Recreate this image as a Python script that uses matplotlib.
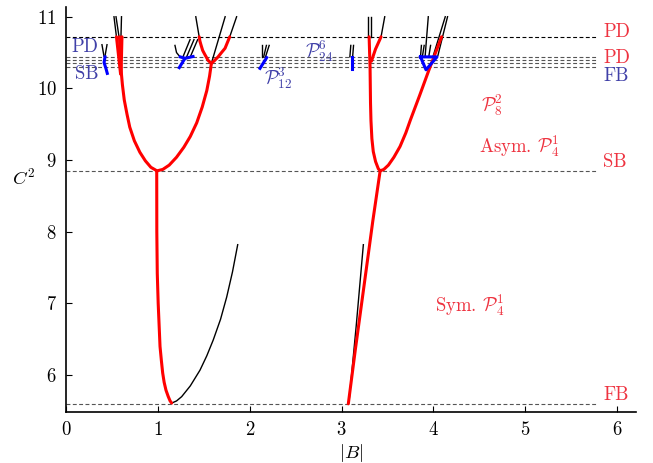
import matplotlib
matplotlib.use("Agg")
import matplotlib.pyplot as plt

plt.rcParams["font.family"] = ["cmr10", "DejaVu Serif"]
plt.rcParams["mathtext.fontset"] = "cm"
plt.rcParams["axes.formatter.use_mathtext"] = True

# Bifurcation levels (C^2)
pd_top = 10.72
cluster_levels = [10.44, 10.40, 10.35, 10.30]
sb_level = 8.85
fb_level = 5.60
level_end = 5.79

# Symmetric P_4^1 branches
sym_left_B = [0.984, 0.985, 0.99, 1.0, 1.01, 1.02, 1.035, 1.049, 1.065, 1.085, 1.11, 1.13, 1.147]
sym_left_C = [8.85, 8.0, 7.42, 7.0, 6.7, 6.40, 6.2, 6.03, 5.9, 5.79, 5.70, 5.64, 5.61]
sym_right_B = [3.073, 3.15, 3.25, 3.34, 3.42]
sym_right_C = [5.60, 6.36, 7.30, 8.15, 8.85]

# Asymmetric P_4^1 branches (left lobe)
asym_l_B = [0.578, 0.585, 0.595, 0.61, 0.63, 0.66, 0.69, 0.74, 0.80, 0.86, 0.92, 0.987,
            1.05, 1.12, 1.20, 1.28, 1.35, 1.42, 1.48, 1.53, 1.56, 1.58]
asym_l_C = [10.72, 10.45, 10.26, 10.05, 9.84, 9.64, 9.46, 9.27, 9.11, 8.99, 8.90, 8.85,
            8.87, 8.93, 9.04, 9.18, 9.33, 9.52, 9.74, 9.97, 10.17, 10.35]
# Asymmetric P_4^1 branches (right lobe)
asym_r_B = [3.30, 3.305, 3.31, 3.312, 3.315, 3.32, 3.33, 3.345, 3.37, 3.40, 3.42,
            3.46, 3.51, 3.57, 3.637, 3.70, 3.75, 3.85, 3.95, 4.09]
asym_r_C = [10.72, 10.5, 10.3, 10.1, 9.8, 9.55, 9.3, 9.12, 8.98, 8.88, 8.85,
            8.87, 8.93, 9.04, 9.19, 9.38, 9.56, 9.90, 10.25, 10.72]

# P_8^2 branches
p8_l_B = [1.447, 1.455, 1.466, 1.485, 1.51, 1.545, 1.58, 1.615, 1.653, 1.69, 1.729, 1.78]
p8_l_C = [10.72, 10.66, 10.61, 10.53, 10.47, 10.39, 10.35, 10.39, 10.44, 10.50, 10.56, 10.72]
p8_r_B = [3.325, 3.37, 3.43]
p8_r_C = [10.38, 10.55, 10.72]
wedge_B = [[0.545, 0.59], [0.605, 0.595]]
wedge_C = [[10.72, 10.20], [10.72, 10.20]]

# Unstable (black) continuations
blk_low_l_B = [1.147, 1.20, 1.256, 1.35, 1.456, 1.53, 1.60, 1.68, 1.747, 1.81, 1.867]
blk_low_l_C = [5.61, 5.64, 5.70, 5.85, 6.07, 6.27, 6.49, 6.78, 7.09, 7.44, 7.82]
blk_low_r_B = [3.08, 3.16, 3.237]
blk_low_r_C = [5.62, 6.70, 7.82]
blk_segments = [
    ([0.518, 0.545], [11.0, 10.72]),
    ([0.54, 0.573], [11.0, 10.72]),
    ([0.60, 0.594], [11.0, 10.72]),
    ([0.387, 0.409], [10.61, 10.45]),
    ([0.442, 0.42], [10.61, 10.45]),
    ([1.183, 1.20, 1.238], [10.60, 10.50, 10.44]),
    ([1.27, 1.347], [10.44, 10.68]),
    ([1.31, 1.39], [10.44, 10.68]),
    ([1.35, 1.43], [10.44, 10.68]),
    ([1.41, 1.447], [11.0, 10.72]),
    ([1.58, 1.73], [10.35, 11.0]),
    ([1.78, 1.855], [10.72, 11.0]),
    ([2.13, 2.13], [10.44, 10.60]),
    ([2.15, 2.18], [10.44, 10.60]),
    ([2.17, 2.21], [10.44, 10.60]),
    ([3.09, 3.10], [10.44, 10.60]),
    ([3.12, 3.13], [10.44, 10.60]),
    ([3.29, 3.29], [10.72, 11.0]),
    ([3.32, 3.32], [10.72, 11.0]),
    ([3.43, 3.47], [10.72, 11.0]),
    ([3.86, 3.87], [10.44, 10.60]),
    ([3.88, 3.90], [10.44, 10.60]),
    ([3.91, 3.945], [10.44, 11.0]),
    ([3.95, 3.97], [10.44, 10.60]),
    ([4.00, 4.13], [10.46, 11.0]),
    ([4.05, 4.155], [10.46, 11.0]),
]

# Higher-period branches (blue)
blue_segments = [
    ([0.42, 0.41, 0.43, 0.445], [10.44, 10.36, 10.28, 10.21]),
    ([1.23, 1.292, 1.38], [10.29, 10.42, 10.445]),
    ([1.24, 1.292], [10.44, 10.42]),
    ([2.11, 2.183], [10.28, 10.43]),
    ([3.11, 3.11], [10.27, 10.44]),
    ([3.86, 4.04, 3.92, 3.86], [10.44, 10.44, 10.26, 10.44]),
]

red = "#ff0000"
blue = "#0000ff"
lab_red = "#ee3340"
lab_blue = "#4040a8"

fig = plt.figure(figsize=(6.53, 4.63), dpi=100)
ax = fig.add_axes([0.1018, 0.1108, 0.8722, 0.8747])

dash = (0, (3.5, 2.2))
ax.hlines(pd_top, 0, level_end, colors="black", linestyles=dash, lw=0.8)
for lv in cluster_levels:
    ax.hlines(lv, 0, level_end, colors="#555555", linestyles=dash, lw=0.8)
ax.hlines(sb_level, 0, level_end, colors="#555555", linestyles=dash, lw=0.8)
ax.hlines(fb_level, 0, level_end, colors="#555555", linestyles=dash, lw=0.8)

ax.plot(blk_low_l_B, blk_low_l_C, color="black", lw=1.0)
ax.plot(blk_low_r_B, blk_low_r_C, color="black", lw=1.0)
for bx, cy in blk_segments:
    ax.plot(bx, cy, color="black", lw=1.0)

red_kw = dict(color=red, lw=2.2, solid_joinstyle="round", solid_capstyle="round")
ax.plot(sym_left_B, sym_left_C, **red_kw)
ax.plot(sym_right_B, sym_right_C, **red_kw)
ax.plot(asym_l_B, asym_l_C, **red_kw)
ax.plot(asym_r_B, asym_r_C, **red_kw)
ax.plot(p8_l_B, p8_l_C, **red_kw)
ax.plot(p8_r_B, p8_r_C, **red_kw)
for bx, cy in zip(wedge_B, wedge_C):
    ax.plot(bx, cy, **red_kw)

for bx, cy in blue_segments:
    ax.plot(bx, cy, color=blue, lw=2.2, solid_joinstyle="round")

fs = 13.5
ax.text(5.85, 10.79, "PD", color=lab_red, fontsize=fs, va="center")
ax.text(5.85, 10.43, "PD", color=lab_red, fontsize=fs, va="center")
ax.text(5.85, 10.17, "FB", color=lab_blue, fontsize=fs, va="center")
ax.text(5.85, 8.98, "SB", color=lab_red, fontsize=fs, va="center")
ax.text(5.85, 5.72, "FB", color=lab_red, fontsize=fs, va="center")
ax.text(0.057, 10.58, "PD", color=lab_blue, fontsize=fs, va="center")
ax.text(0.093, 10.20, "SB", color=lab_blue, fontsize=fs, va="center")
ax.text(4.52, 9.77, r"$\mathcal{P}_8^2$", color=lab_red, fontsize=fs, va="center")
ax.text(4.50, 9.19, r"Asym. $\mathcal{P}_4^1$", color=lab_red, fontsize=fs, va="center")
ax.text(4.02, 6.98, r"Sym. $\mathcal{P}_4^1$", color=lab_red, fontsize=fs, va="center")
ax.text(2.15, 10.14, r"$\mathcal{P}_{12}^3$", color=lab_blue, fontsize=fs, va="center")
ax.text(2.60, 10.52, r"$\mathcal{P}_{24}^6$", color=lab_blue, fontsize=fs, va="center")

ax.set_xlim(0, 6.21)
ax.set_ylim(5.49, 11.14)
ax.set_xticks([0, 1, 2, 3, 4, 5, 6])
ax.set_yticks([6, 7, 8, 9, 10, 11])
ax.tick_params(direction="in", length=4, width=0.8, labelsize=fs, pad=7)
for s in ("top", "right"):
    ax.spines[s].set_visible(False)
for s in ("left", "bottom"):
    ax.spines[s].set_linewidth(1.2)

ax.set_xlabel(r"$|B|$", fontsize=fs, labelpad=2)
ax.set_ylabel(r"$C^2$", fontsize=fs, rotation=0)
ax.yaxis.set_label_coords(-0.075, 0.55)

fig.savefig("out.png", dpi=100)
